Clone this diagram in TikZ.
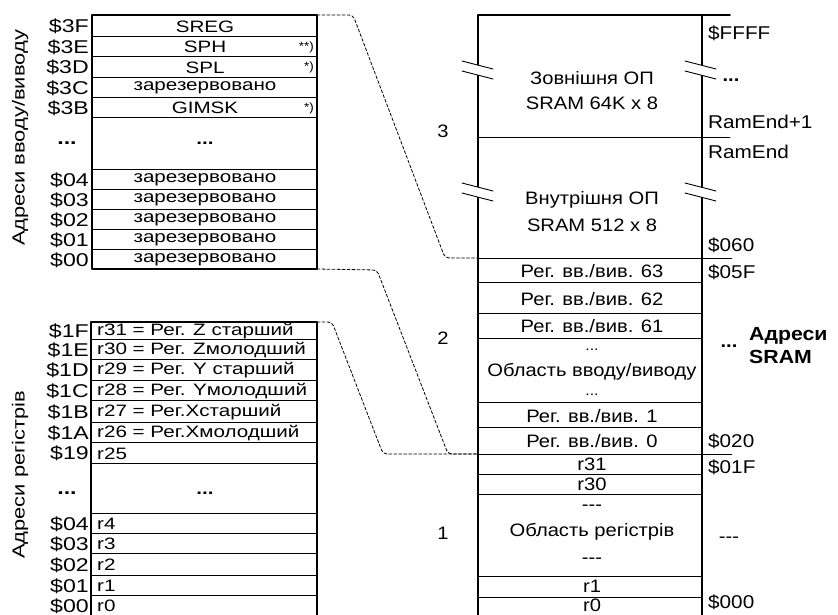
\documentclass[tikz,border=0pt]{standalone}
\usepackage{fontspec}
\setmainfont{Liberation Sans}[FakeStretch=1.12]
\newfontfamily\widefont{Liberation Sans}[FakeStretch=1.25]
\newcommand\tridash{-\kern0pt-\kern0pt-}

\begin{document}
\begin{tikzpicture}[x=1pt, y=-1pt, line cap=round, line join=round,
  frame/.style={line width=1.5pt},
  rowline/.style={line width=0.9pt},
  link/.style={line width=0.8pt, dash pattern=on 3pt off 2pt, rounded corners=4pt},
  cell/.style={font=\widefont\fontsize{16.5}{16.5}\selectfont, inner sep=0pt},
  adr/.style={font=\widefont\fontsize{18.5}{18.5}\selectfont, inner sep=0pt, anchor=east},
  mem/.style={font=\fontsize{18}{18}\selectfont, inner sep=0pt},
  memadr/.style={font=\fontsize{18.5}{18.5}\selectfont, inner sep=0pt, anchor=west},
  note/.style={font=\fontsize{12}{12}\selectfont, inner sep=0pt, anchor=east}]
  \useasboundingbox (0,0) rectangle (838,615);

  % I/O address table
  \draw[frame] (92,15) rectangle (317,269);
  \foreach \yt/\yb/\addr/\txt [count=\i] in {15/36/\$3F/SREG, 36/56/\$3E/SPH, 56/77/\$3D/SPL,
      77/97/\$3C/зарезервовано, 97/117/\$3B/GIMSK, 169/189/\$04/зарезервовано,
      189/209/\$03/зарезервовано, 209/229/\$02/зарезервовано, 229/249/\$01/зарезервовано,
      249/269/\$00/зарезервовано} {
    \draw[rowline] (92,\yb) -- (317,\yb);
    \node[adr] (ioadr\i) at (89,{(\yt+\yb)/2+1}) {\addr};
    \node[cell] (iocell\i) at (205,{(\yt+\yb)/2+1}) {\txt};
  }
  \draw[rowline] (92,169) -- (317,169);
  \node[adr, anchor=center] (iodots) at (67,143) {\textbf{...}};
  \node[cell] (iocelldots) at (205,143) {\textbf{...}};
  \node[note] (sphmark) at (314,47) {**)};
  \node[note] (splmark) at (314,67) {*)};
  \node[note] (gimskmark) at (314,108) {*)};
  \node[cell, font=\widefont\fontsize{17.5}{17.5}\selectfont, rotate=90] (iotitle) at (20,138) {Адреси вводу/виводу};

  % register address table
  \draw[frame] (91,615) -- (91,322) -- (317,322) -- (317,615);
  \foreach \yt/\yb/\addr/\txt [count=\i] in {322/339/\$1F/{r31 = Рег. Z старший},
      339/359/\$1E/{r30 = Рег. Zмолодший}, 359/380/\$1D/{r29 = Рег. Y старший},
      380/400/\$1C/{r28 = Рег. Yмолодший}, 400/422/\$1B/{r27 = Рег.Xстарший},
      422/442/\$1A/{r26 = Рег.Xмолодший}, 442/463/\$19/r25, 513/533/\$04/r4,
      533/553/\$03/r3, 553/575/\$02/r2, 575/595/\$01/r1, 595/615/\$00/r0} {
    \draw[rowline] (91,\yb) -- (317,\yb);
    \node[adr] (regadr\i) at (89,{(\yt+\yb)/2+1}) {\addr};
    \node[cell, anchor=west] (regcell\i) at (97,{(\yt+\yb)/2+1}) {\txt};
  }
  \draw[rowline] (91,513) -- (317,513);
  \node[adr, anchor=center] (regdots) at (67,493) {\textbf{...}};
  \node[cell] (regcelldots) at (205,493) {\textbf{...}};
  \node[cell, font=\widefont\fontsize{17.5}{17.5}\selectfont, rotate=90] (regtitle) at (20,475) {Адреси регістрів};

  % SRAM map
  \draw[frame] (478,15) -- (478,615);
  \draw[frame] (702,15) -- (702,615);
  \draw[frame] (478,15) -- (730,15);
  \draw[rowline] (478,137) -- (730,137);
  \draw[rowline] (478,258) -- (732,258);
  \draw[rowline] (478,454) -- (732,454);
  \foreach \y in {282,313,338,402,427,474,494,576,597}
    \draw[rowline] (478,\y) -- (702,\y);
  \foreach \bx/\by in {478/70, 478/192, 701/70, 701/192} {
    \fill[white] (\bx-16,\by-9) -- (\bx+15,\by-1) -- (\bx+15,\by+9) -- (\bx-16,\by+1) -- cycle;
    \draw[rowline] (\bx-16,\by-9) -- (\bx+15,\by-1) (\bx-16,\by+1) -- (\bx+15,\by+9);
  }

  \node[mem] (extname) at (592,78) {Зовнішня ОП};
  \node[mem] (extsize) at (592,103) {SRAM 64K x 8};
  \node[mem] (intname) at (592,200) {Внутрішня ОП};
  \node[mem] (intsize) at (592,225) {SRAM 512 x 8};
  \node[mem] (io63) at (592,271) {Рег. вв./вив. 63};
  \node[mem] (io62) at (592,299) {Рег. вв./вив. 62};
  \node[mem] (io61) at (592,326) {Рег. вв./вив. 61};
  \node[mem, font=\fontsize{14}{14}\selectfont] (iodotsa) at (592,350) {...};
  \node[mem] (ioarea) at (592,372) {Область вводу/виводу};
  \node[mem, font=\fontsize{14}{14}\selectfont] (iodotsb) at (592,395) {...};
  \node[mem] (io1) at (592,416) {Рег. вв./вив. 1};
  \node[mem] (io0) at (592,441) {Рег. вв./вив. 0};
  \node[mem] (r31) at (592,464) {r31};
  \node[mem] (r30) at (592,484) {r30};
  \node[mem] (regdasha) at (592,508) {\tridash};
  \node[mem] (regarea) at (592,532) {Область регістрів};
  \node[mem] (regdashb) at (592,561) {\tridash};
  \node[mem] (r1) at (592,586) {r1};
  \node[mem] (r0) at (592,605) {r0};

  \node[mem] (area3) at (443,131) {3};
  \node[mem] (area2) at (443,338) {2};
  \node[mem] (area1) at (443,533) {1};

  \node[memadr] (aFFFF) at (708,33) {\$FFFF};
  \node[mem] (adots) at (731,80) {\textbf{...}};
  \node[memadr] (aend1) at (708,122) {RamEnd+1};
  \node[memadr] (aend) at (708,152) {RamEnd};
  \node[memadr] (a060) at (708,245) {\$060};
  \node[memadr] (a05F) at (708,272) {\$05F};
  \node[mem] (bdots) at (729,346) {\textbf{...}};
  \node[memadr, align=left, font=\bfseries\fontsize{19}{23}\selectfont] (sramtitle) at (749,346) {Адреси\\SRAM};
  \node[memadr] (a020) at (708,441) {\$020};
  \node[memadr] (a01F) at (708,467) {\$01F};
  \node[mem] (cdots) at (729,540) {\tridash};
  \node[memadr] (a000) at (708,602) {\$000};

  % dashed links
  \coordinate (iotop) at (317,15);
  \coordinate (iobot) at (317,269);
  \coordinate (regtop) at (317,322);
  \coordinate (iohigh) at (478,258);
  \coordinate (iolow) at (478,454);
  \draw[link] (iotop) -- ++(36,0) -- ++(92,243) -- (iohigh);
  \draw[link] (iobot) -- ++(60,1) -- ++(71,184) -- (iolow);
  \draw[link] (regtop) -- ++(15,0) -- ++(51,132) -- (iolow);
\end{tikzpicture}
\end{document}
